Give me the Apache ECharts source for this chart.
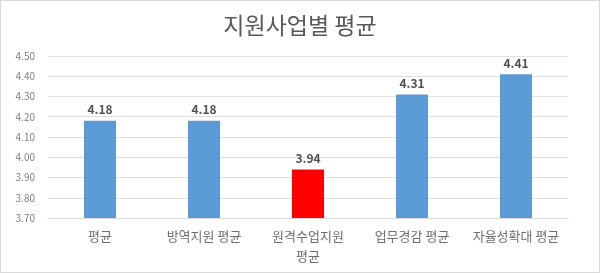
<!DOCTYPE html>
<html><head><meta charset="utf-8">
<script src="https://cdn.jsdelivr.net/npm/echarts@6/dist/echarts.min.js"></script>
<style>html,body{margin:0;padding:0;background:#fff}#c{width:600px;height:273px;box-sizing:border-box;border:1px solid #d9d9d9}</style>
</head><body><div id="c"></div>
<script>
const categories = ['평균', '방역지원 평균', '원격수업지원\n평균', '업무경감 평균', '자율성확대 평균'];
const values = [4.18, 4.18, 3.94, 4.31, 4.41];
const barColors = ['#5b9bd5', '#5b9bd5', '#ff0000', '#5b9bd5', '#5b9bd5'];
const title = '지원사업별 평균';
const chart = echarts.init(document.getElementById('c'));
const font = '"Noto Sans CJK KR", "Noto Sans", sans-serif';
chart.setOption({
  animation: false,
  title: {text: title, left: 'center', top: 8, textStyle: {fontFamily: font, fontSize: 23, fontWeight: 'normal', color: '#595959'}},
  grid: {left: 47, right: 31, top: 55, bottom: 54},
  xAxis: {type: 'category', data: categories,
    axisLine: {lineStyle: {color: '#d9d9d9'}}, axisTick: {show: false},
    axisLabel: {fontFamily: font, fontSize: 13, color: '#6f6f6f', margin: 8, lineHeight: 20, interval: 0}},
  yAxis: {type: 'value', min: 3.7, max: 4.5, interval: 0.1,
    axisLabel: {fontFamily: font, fontSize: 10, color: '#7f7f7f', formatter: v => v.toFixed(2), margin: 13},
    splitLine: {lineStyle: {color: '#e0e0e0'}}, axisLine: {show: false}, axisTick: {show: false}},
  series: [{type: 'bar', barWidth: 32,
    data: values.map((v, i) => ({value: v, itemStyle: {color: barColors[i]}})),
    label: {show: true, position: 'top', formatter: p => p.value.toFixed(2), fontFamily: font, fontSize: 12, fontWeight: 'bold', color: '#505050', distance: 5}}]
});
</script></body></html>
